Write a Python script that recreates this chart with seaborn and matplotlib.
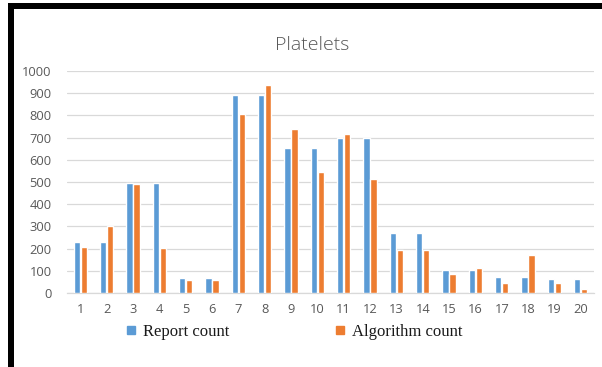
import matplotlib
matplotlib.use("Agg")
import matplotlib.pyplot as plt
import seaborn as sns
import pandas as pd
from matplotlib.patches import Rectangle
from matplotlib.lines import Line2D

categories = [str(i) for i in range(1, 21)]
report_count = [231, 231, 496, 496, 67, 67, 892, 892, 654, 654,
                699, 699, 271, 271, 103, 103, 73, 73, 63, 63]
algorithm_count = [208, 300, 490, 201, 58, 58, 807, 937, 739, 547,
                   717, 514, 193, 193, 85, 114, 46, 171, 46, 18]
series_names = ["Report count", "Algorithm count"]
colors = ["#5B9BD5", "#ED7D31"]
yticks = list(range(0, 1001, 100))

df = pd.DataFrame({
    "cat": categories * 2,
    "value": report_count + algorithm_count,
    "series": [series_names[0]] * 20 + [series_names[1]] * 20,
})

sns.set_theme(style="white")
plt.rcParams["font.family"] = ["Open Sans", "DejaVu Sans"]

W, H = 602, 367
fig = plt.figure(figsize=(W / 100, H / 100), dpi=100)
fig.patch.set_facecolor("white")
ax = fig.add_axes([67 / W, 1 - 293 / H, (594 - 67) / W, (293 - 71) / H])

sns.barplot(data=df, x="cat", y="value", hue="series", order=categories,
            hue_order=series_names, palette=colors, width=0.53, gap=0.1,
            saturation=1, ax=ax, legend=False, zorder=3)

ax.set_ylim(0, 1000)
ax.set_xlim(-0.5, 19.5)
ax.set_yticks(yticks)
ax.set_yticklabels([str(v) for v in yticks])
ax.set_xlabel("")
ax.set_ylabel("")
ax.grid(axis="y", color="#D9D9D9", linewidth=0.9, zorder=0)
ax.grid(axis="x", visible=False)
for s in ["top", "right", "left"]:
    ax.spines[s].set_visible(False)
ax.spines["bottom"].set_color("#D9D9D9")
ax.spines["bottom"].set_linewidth(0.9)
ax.tick_params(axis="both", length=0, labelsize=9.3, labelcolor="#595959")
ax.tick_params(axis="y", pad=11)
ax.tick_params(axis="x", pad=7)

fig.text(312 / W, 1 - 45 / H, "Platelets", ha="center", va="center",
         fontsize=14, color="#595959", fontweight="light")

# legend
handles = [Line2D([], [], marker="s", linestyle="none", markersize=6,
                  markerfacecolor=c, markeredgecolor=c) for c in colors]
leg = fig.legend(handles, series_names, loc="center left",
                 bbox_to_anchor=(124 / W, 1 - 332 / H), ncol=2, frameon=False,
                 prop={"family": "Liberation Serif", "size": 12},
                 handlelength=0.8, handletextpad=0.36, columnspacing=6.2,
                 borderaxespad=0, borderpad=0)
for t in leg.get_texts():
    t.set_color("#1a1a1a")

# black frame (top and left edges)
fig.add_artist(Rectangle((8 / W, 0), 6 / W, 1 - 3 / H, transform=fig.transFigure,
                         facecolor="black", edgecolor="none"))
fig.add_artist(Rectangle((8 / W, 1 - 9 / H), 1 - 8 / W, 6 / H, transform=fig.transFigure,
                         facecolor="black", edgecolor="none"))

fig.savefig("out.png", dpi=100)
